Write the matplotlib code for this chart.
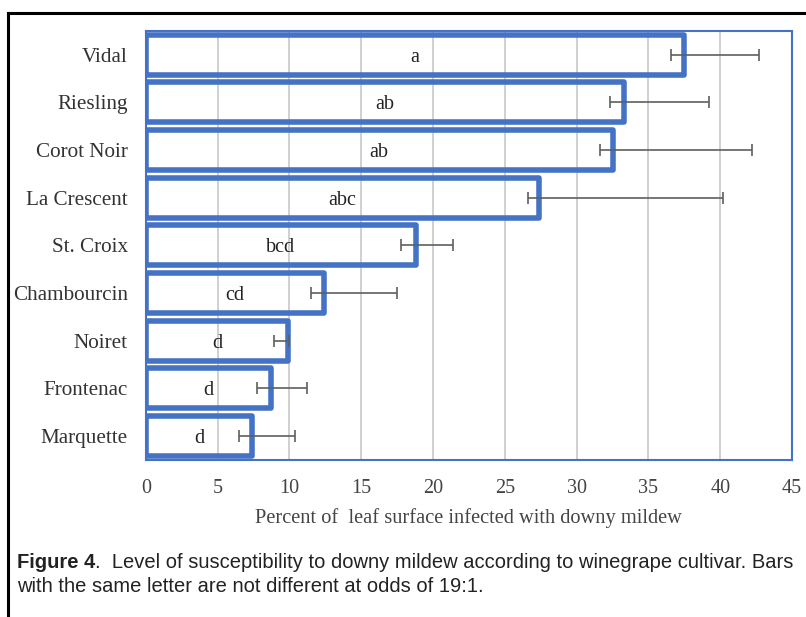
"""
Downy mildew susceptibility by winegrape cultivar (horizontal bar chart).
"""
import numpy as np
import matplotlib
matplotlib.use("Agg")
import matplotlib.pyplot as plt
from matplotlib.lines import Line2D


cultivars = ["Vidal", "Riesling", "Corot Noir", "La Crescent", "St. Croix",
             "Chambourcin", "Noiret", "Frontenac", "Marquette"]
percent = [37.5, 33.3, 32.5, 27.4, 18.8, 12.4, 9.9, 8.7, 7.4]
err_low = [36.6, 32.3, 31.6, 26.6, 17.8, 11.5, 8.9, 7.75, 6.5]
err_high = [42.7, 39.2, 42.2, 40.2, 21.4, 17.5, 10.0, 11.2, 10.4]
letters = ["a", "ab", "ab", "abc", "bcd", "cd", "d", "d", "d"]
xticks = [0, 5, 10, 15, 20, 25, 30, 35, 40, 45]

xlabel = "Percent of  leaf surface infected with downy mildew"
cap_bold = "Figure 4"
cap_line1 = ".  Level of susceptibility to downy mildew according to winegrape cultivar. Bars"
cap_line2 = "with the same letter are not different at odds of 19:1."

BLUE = "#4472c4"
SERIF = "Liberation Serif"
SANS = "Liberation Sans"


def main():
    fig = plt.figure(figsize=(8.06, 6.17), dpi=100)
    ax = fig.add_axes([0.181, 0.2545, 0.8016, 0.6953])

    y = np.arange(len(cultivars))
    vals = np.array(percent)
    lo = vals - np.array(err_low)
    hi = np.array(err_high) - vals

    ax.barh(y, vals, height=0.84, facecolor="none", edgecolor=BLUE,
            linewidth=4, joinstyle="round", zorder=3)
    ax.errorbar(vals, y, xerr=[lo, hi], fmt="none", ecolor="#5f5f5f",
                elinewidth=1.2, capsize=4, capthick=1.2, zorder=4)

    for yi, v, t in zip(y, vals, letters):
        ax.text(v / 2, yi, t, ha="center", va="center_baseline", family=SERIF,
                fontsize=14.5, color="#222222", zorder=5)

    ax.set_xlim(0, 45)
    ax.set_ylim(len(cultivars) - 0.5, -0.5)
    ax.set_xticks(xticks)
    ax.set_yticks(y)
    ax.set_yticklabels(cultivars, family=SERIF, fontsize=15.2, color="#333333")
    ax.set_xticklabels([str(t) for t in xticks], family=SERIF, fontsize=14.5,
                       color="#444444")
    ax.tick_params(length=0)
    ax.tick_params(axis="x", pad=14)
    ax.tick_params(axis="y", pad=13)
    ax.xaxis.grid(True, color="#c8c8c8", linewidth=1.2, zorder=1)
    ax.set_axisbelow(True)
    for s in ax.spines.values():
        s.set_color(BLUE)
        s.set_linewidth(1.5)

    ax.set_xlabel(xlabel, family=SERIF, fontsize=14.7, color="#444444",
                  labelpad=7)

    # caption: bold label followed by regular text
    fig.canvas.draw()
    r = fig.canvas.get_renderer()
    x0 = 17 / 806
    t1 = fig.text(x0, 1 - 563 / 617, cap_bold, family=SANS,
                  fontweight="bold", fontsize=14.5, va="center", color="#222222")
    bb = t1.get_window_extent(r)
    fig.text(bb.x1 / fig.bbox.width, 1 - 563 / 617, cap_line1, family=SANS,
             fontsize=14.5, va="center", color="#222222")
    fig.text(x0, 1 - 587 / 617, cap_line2, family=SANS,
             fontsize=14.5, va="center", color="#222222")

    # outer black frame (runs off the right and bottom edges)
    fig.add_artist(Line2D([8 / 806, 1], [1 - 13 / 617] * 2, color="black",
                          linewidth=2.2, transform=fig.transFigure))
    fig.add_artist(Line2D([8 / 806] * 2, [0, 1 - 13 / 617], color="black",
                          linewidth=2.2, transform=fig.transFigure))

    fig.savefig("out.png", dpi=100)


if __name__ == "__main__":
    main()
